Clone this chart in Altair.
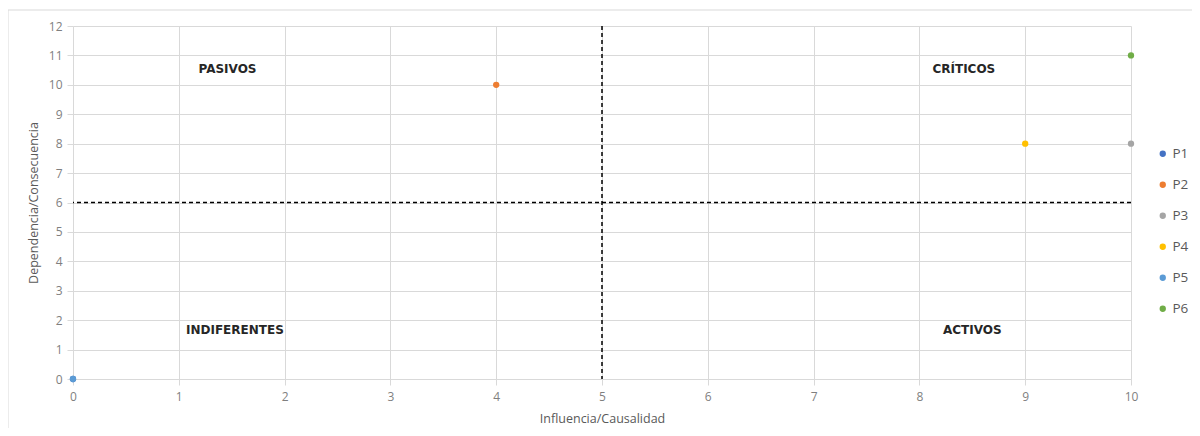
import altair as alt
import pandas as pd

series = ["P1", "P2", "P3", "P4", "P5", "P6"]
influencia = [0, 4, 10, 9, 0, 10]
dependencia = [0, 10, 8, 8, 0, 11]
colors = ["#4472C4", "#ED7D31", "#A5A5A5", "#FFC000", "#5B9BD5", "#70AD47"]

quad_labels = ["PASIVOS", "CRÍTICOS", "INDIFERENTES", "ACTIVOS"]
quad_x = [1.46, 8.42, 1.53, 8.5]
quad_y = [10.55, 10.55, 1.67, 1.67]

x_ticks = list(range(0, 11))
y_ticks = list(range(0, 13))
x_cut = [5]
y_cut = [6]

df = pd.DataFrame({"serie": series, "x": influencia, "y": dependencia})
lab = pd.DataFrame({"t": quad_labels, "x": quad_x, "y": quad_y})

W, H = 1058, 353
FONT = "Open Sans"

xs = alt.Scale(domain=[0, 10], nice=False, zero=False)
ys = alt.Scale(domain=[0, 12], nice=False, zero=False)
x_axis = alt.Axis(values=x_ticks, format="d", title="Influencia/Causalidad", titlePadding=10,
                  labelOverlap=False, labelPadding=6, labelFlush=False)
y_axis = alt.Axis(values=y_ticks, format="d", title="Dependencia/Consecuencia", titlePadding=8,
                  labelOverlap=False, labelPadding=5)


def X(f):
    return alt.X(f, scale=xs, axis=x_axis)


def Y(f):
    return alt.Y(f, scale=ys, axis=y_axis)


points = alt.Chart(df).mark_circle(size=40, opacity=1).encode(
    x=X("x:Q"),
    y=Y("y:Q"),
    color=alt.Color("serie:N", scale=alt.Scale(domain=series, range=colors),
                    legend=alt.Legend(title=None, orient="none", legendX=W + 25, legendY=121,
                                      symbolType="circle", symbolSize=40, labelFontSize=13.5,
                                      labelColor="#595959", labelFont=FONT, rowPadding=16,
                                      symbolStrokeWidth=0, labelOffset=3)),
    order=alt.Order("serie:N", sort="ascending"),
)

vline = alt.Chart(pd.DataFrame({"x": x_cut})).mark_rule(color="black", strokeWidth=1.5, strokeDash=[4, 3]).encode(
    x=X("x:Q"))
hline = alt.Chart(pd.DataFrame({"y": y_cut})).mark_rule(color="black", strokeWidth=1.5, strokeDash=[4, 3]).encode(
    y=Y("y:Q"))

texts = alt.Chart(lab).mark_text(fontSize=12, fontWeight="bold", font="DejaVu Sans", color="#262626",
                                 align="center").encode(
    x=X("x:Q"), y=Y("y:Q"), text="t:N")

frame_top = alt.Chart(pd.DataFrame({"a": [0]})).mark_rule(color="#d9d9d9", strokeWidth=1).encode(
    x=alt.value(-65), x2=alt.value(1200), y=alt.value(-16))
frame_left = alt.Chart(pd.DataFrame({"a": [0]})).mark_rule(color="#d9d9d9", strokeWidth=1).encode(
    x=alt.value(-65), y=alt.value(-16), y2=alt.value(H + 60))

chart = alt.layer(points, vline, hline, texts, frame_top, frame_left).properties(
    width=W, height=H,
    autosize=alt.AutoSizeParams(type="none"),
    padding={"left": 65, "top": 18, "right": 61, "bottom": 49},
).configure_view(stroke=None).configure_axis(
    gridColor="#d9d9d9", gridWidth=1, domain=False, tickColor="#d9d9d9", tickSize=6,
    labelColor="#7f7f7f", labelFont=FONT, labelFontSize=12, titleFont=FONT,
    titleFontSize=12.5, titleFontWeight="normal", titleColor="#595959",
    labelOverlap=False,
).configure_axisX(domain=True, domainColor="#d9d9d9")

chart.save("out.html", embed_options={"renderer": "svg", "actions": False})
